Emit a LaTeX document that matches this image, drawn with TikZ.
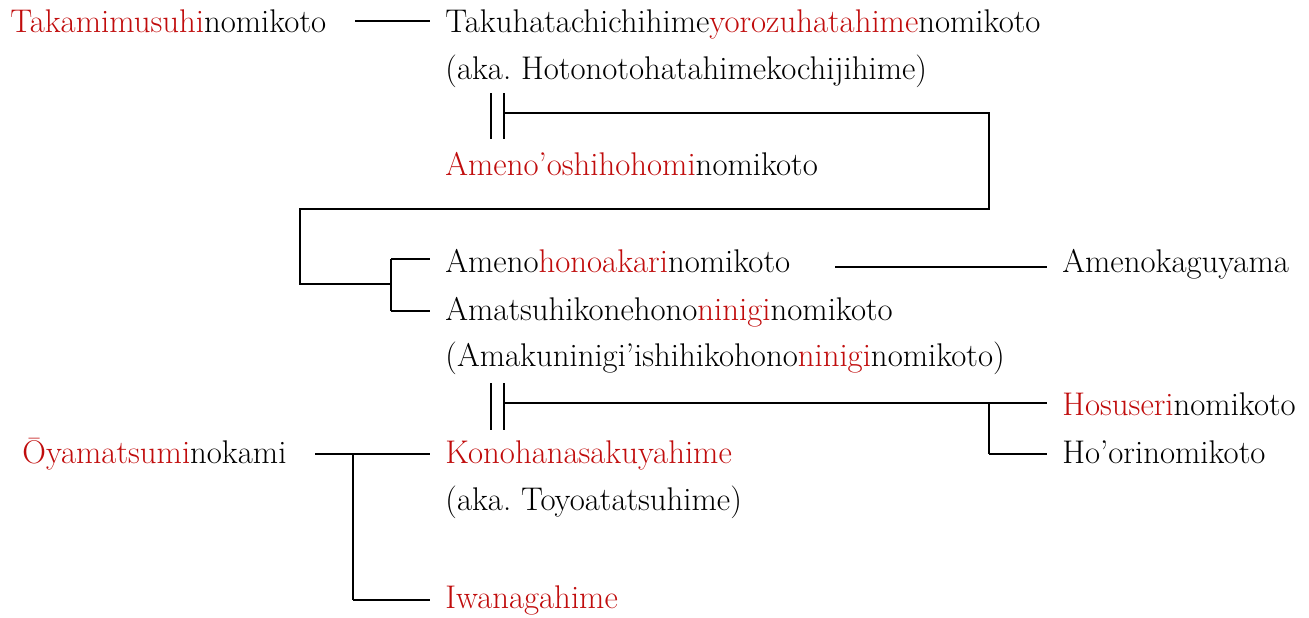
\documentclass[tikz,border=0pt]{standalone}
\usetikzlibrary{positioning}
\definecolor{kred}{RGB}{192,12,12}
\newcommand{\rd}[1]{\textcolor{kred}{#1}}

\begin{document}
\begin{tikzpicture}[x=0.5pt,y=-0.5pt]
\pgfmathsetmacro{\XL}{445}
\pgfmathsetmacro{\XR}{1062}

\tikzset{
  person/.style={anchor=base west, inner sep=0pt, font=\fontsize{16.4}{19}\selectfont},
  link/.style={line width=1.05pt},
  tonode/.style={link, shorten >=7.5pt},
}
\useasboundingbox (0,0) rectangle (1309,617);

\node[person] (taka) at (10,32) {\rd{Takamimusuhi}nomikoto};
\node[person] (takuha) at (\XL,32) {Takuhatachichihime\rd{yorozuhatahime}nomikoto};
\node[person] (takuhaaka) at (\XL,79) {(aka.\ Hotonotohatahimekochijihime)};
\node[person] (oshiho) at (\XL,175) {\rd{Ameno'oshihohomi}nomikoto};
\node[person] (honoak) at (\XL,272) {Ameno\rd{honoakari}nomikoto};
\node[person] (kaguy) at (\XR,272) {Amenokaguyama};
\node[person] (ninigi) at (\XL,320) {Amatsuhikonehono\rd{ninigi}nomikoto};
\node[person] (ninigiaka) at (\XL,366) {(Amakuninigi'ishihikohono\rd{ninigi}nomikoto)};
\node[person] (hosus) at (\XR,415) {\rd{Hosuseri}nomikoto};
\node[person] (hoori) at (\XR,463) {Ho'orinomikoto};
\node[person] (oyama) at (22,463) {\rd{\=Oyamatsumi}nokami};
\node[person] (konoha) at (\XL,463) {\rd{Konohanasakuyahime}};
\node[person] (konohaaka) at (\XL,510) {(aka.\ Toyoatatsuhime)};
\node[person] (iwana) at (\XL,608) {\rd{Iwanagahime}};

% Takamimusuhi -> daughter
\coordinate (t1) at (355,21);
\draw[tonode] (t1) -- (t1 -| takuha.west);

% marriage 1
\draw[link] (491,93) -- (491,139);
\draw[link] (504,93) -- (504,139);
\coordinate (m1) at (504,113);
\coordinate (m1r) at (989,113);
\coordinate (m1d) at (989,209);
\coordinate (m1l) at (300,209);
\coordinate (m1b) at (300,284);
\coordinate (m1c) at (391,284);
\draw[link] (m1) -- (m1r) -- (m1d) -- (m1l) -- (m1b) -- (m1c);
\coordinate (h1) at (391,259);
\coordinate (h2) at (391,311);
\draw[link] (h2) -- (h1);
\draw[tonode] (h1) -- (h1 -| honoak.west);
\draw[tonode] (h2) -- (h2 -| ninigi.west);

% Honoakari -> Amenokaguyama
\coordinate (k1) at (835,267);
\draw[tonode] (k1) -- (k1 -| kaguy.west);

% marriage 2
\draw[link] (491,383) -- (491,430);
\draw[link] (504,383) -- (504,430);
\coordinate (m2) at (504,403);
\coordinate (m2j) at (989,403);
\coordinate (m2b) at (989,454);
\draw[tonode] (m2) -- (m2 -| hosus.west);
\draw[link] (m2j) -- (m2b);
\draw[tonode] (m2b) -- (m2b -| hoori.west);

% Oyamatsumi -> daughters
\coordinate (o1) at (315,454);
\coordinate (o2) at (353,454);
\coordinate (o3) at (353,600);
\draw[tonode] (o1) -- (o1 -| konoha.west);
\draw[link] (o2) -- (o3);
\draw[tonode] (o3) -- (o3 -| iwana.west);
\end{tikzpicture}
\end{document}
